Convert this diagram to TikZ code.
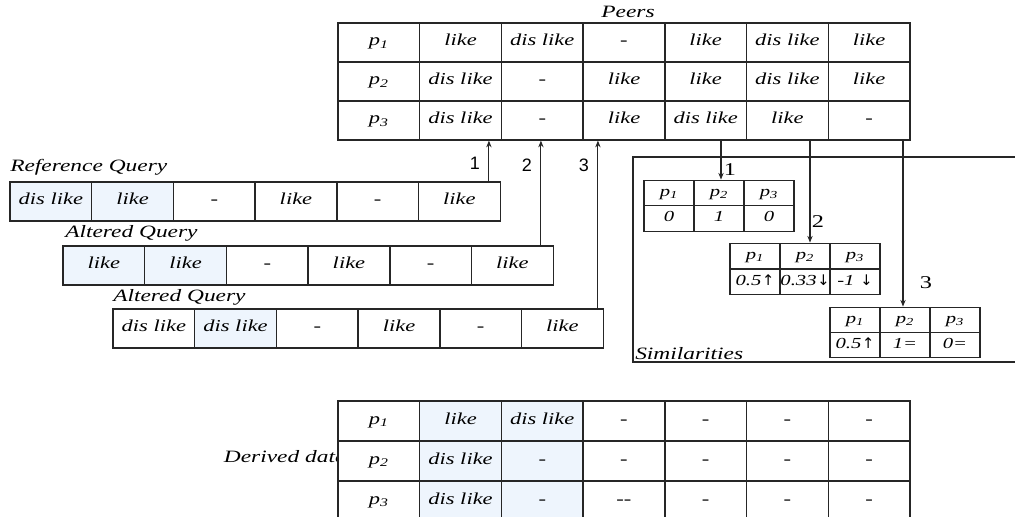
\documentclass[tikz,border=0pt]{standalone}
\usepackage{fontspec}
\setmainfont{Liberation Serif}[FakeStretch=1.35]
\newfontfamily\numfont{Liberation Sans}
\newfontfamily\symfont{DejaVu Sans}
\usetikzlibrary{arrows.meta}
\definecolor{shade}{HTML}{EEF5FD}
\definecolor{ink}{HTML}{262626}
\newcommand\pp[1]{p\textsubscript{#1}}
\newcommand\up{{\symfont\fontsize{11}{11}\selectfont\kern0.5pt↑}}
\newcommand\dn{{\symfont\fontsize{11}{11}\selectfont\kern0.5pt↓}}
\tikzset{
  cellbox/.style={draw=ink, line width=1pt, fill=white, inner sep=0pt,
    font=\itshape\fontsize{12.5}{14}\selectfont, text height=1.5ex, text depth=0.4ex,
    minimum width=61.28pt, minimum height=29.25pt},
  dcell/.style={cellbox, minimum height=30pt},
  scell/.style={cellbox, font=\itshape\fontsize{11.5}{13}\selectfont,
    minimum width=37.5pt, minimum height=19.2pt},
  lbl/.style={font=\itshape\fontsize{13}{15}\selectfont, inner sep=0pt},
  numlbl/.style={font=\numfont\fontsize{13.5}{15}\selectfont, inner sep=0pt},
  snum/.style={font=\fontsize{13.5}{15}\selectfont, inner sep=0pt},
  arr/.style={draw=ink, line width=0.8pt, -{Stealth[length=5pt,width=4pt]}},
  frame/.style={draw=ink, line width=1pt},
}
\begin{document}
\begin{tikzpicture}[x=0.75pt,y=-0.75pt]
\useasboundingbox (0,0) rectangle (1015,517);

% ---------- Peers ----------
\node[lbl] (peers) at (628,12) {Peers};
\foreach \t [count=\i] in {{\pp1},like,dis like,-,like,dis like,like}
  \node[cellbox] (P1\i) at ({338+81.71*(\i-0.5)},42.5) {\t};
\foreach \t [count=\i] in {{\pp2},dis like,-,like,like,dis like,like}
  \node[cellbox] (P2\i) at ({338+81.71*(\i-0.5)},81.5) {\t};
\foreach \t [count=\i] in {{\pp3},dis like,-,like,dis like,like,-}
  \node[cellbox] (P3\i) at ({338+81.71*(\i-0.5)},120.5) {\t};

% ---------- Queries ----------
\node[lbl, anchor=west] (rql) at (10,167) {Reference Query};
\foreach \t/\s [count=\i] in {dis like/shade,like/shade,-/white,like/white,-/white,like/white}
  \node[cellbox, fill=\s] (R\i) at ({10+81.71*(\i-0.5)},201.5) {\t};

\node[lbl, anchor=west] (aq1) at (65,233) {Altered Query};
\foreach \t/\s [count=\i] in {like/shade,like/shade,-/white,like/white,-/white,like/white}
  \node[cellbox, fill=\s] (A\i) at ({63+81.71*(\i-0.5)},265.5) {\t};

\node[lbl, anchor=west] (aq2) at (113,297) {Altered Query};
\foreach \t/\s [count=\i] in {dis like/white,dis like/shade,-/white,like/white,-/white,like/white}
  \node[cellbox, fill=\s] (B\i) at ({113+81.71*(\i-0.5)},328.5) {\t};

% arrows up to Peers
\path (R6.north east) ++(-12,0) coordinate (u1);
\path (A6.north east) ++(-13,0) coordinate (u2);
\path (B6.north east) ++(-6,0) coordinate (u3);
\draw[arr] (u1) -- (u1 |- P32.south);
\draw[arr] (u2) -- (u2 |- P33.south);
\draw[arr] (u3) -- (u3 |- P34.south);
\node[numlbl] (n1) at (475,163) {1};
\node[numlbl] (n2) at (527,165) {2};
\node[numlbl] (n3) at (584,165) {3};

% ---------- Similarities ----------
\draw[frame] (1016,157) -- (633,157) -- (633,362) -- (1016,362);
\node[lbl, anchor=base west] (siml) at (635,359) {Similarities};

\foreach \t [count=\i] in {{\pp1},{\pp2},{\pp3}}
  \node[scell] (S11\i) at ({644+50*(\i-0.5)},193) {\t};
\foreach \t [count=\i] in {0,1,0}
  \node[scell] (S12\i) at ({644+50*(\i-0.5)},218.5) {\t};

\foreach \t [count=\i] in {{\pp1},{\pp2},{\pp3}}
  \node[scell] (S21\i) at ({730+50*(\i-0.5)},256) {\t};
\node[scell] (S221) at (755,282) {0.5\up};
\node[scell] (S222) at (805,282) {0.33\dn};
\node[scell] (S223) at (855,282) {-1 \dn};

\foreach \t [count=\i] in {{\pp1},{\pp2},{\pp3}}
  \node[scell] (S31\i) at ({830+50*(\i-0.5)},320) {\t};
\node[scell] (S321) at (855,345) {0.5\up};
\node[scell] (S322) at (905,345) {1=};
\node[scell] (S323) at (955,345) {0=};

% arrows down from Peers
\path (S112.north) ++(2,0) coordinate (d1);
\path (S212.north) ++(5,0) coordinate (d2);
\path (S312.north) ++(-2,0) coordinate (d3);
\draw[arr] (d1 |- P35.south) -- (d1);
\draw[arr] (d2 |- P36.south) -- (d2);
\draw[arr] (d3 |- P37.south) -- (d3);
\node[snum] (m1) at (730,170) {1};
\node[snum] (m2) at (818,222) {2};
\node[snum] (m3) at (926,283) {3};

% ---------- Derived data ----------
\node[lbl, anchor=east] (dl) at (347,457) {Derived data};
\foreach \t/\s [count=\i] in {{\pp1}/white,like/shade,dis like/shade,-/white,-/white,-/white,-/white}
  \node[dcell, fill=\s] (D1\i) at ({338+81.71*(\i-0.5)},421) {\t};
\foreach \t/\s [count=\i] in {{\pp2}/white,dis like/shade,-/shade,-/white,-/white,-/white,-/white}
  \node[dcell, fill=\s] (D2\i) at ({338+81.71*(\i-0.5)},461) {\t};
\foreach \t/\s [count=\i] in {{\pp3}/white,dis like/shade,-/shade,{-{}-}/white,-/white,-/white,-/white}
  \node[dcell, fill=\s] (D3\i) at ({338+81.71*(\i-0.5)},501) {\t};
\end{tikzpicture}
\end{document}
